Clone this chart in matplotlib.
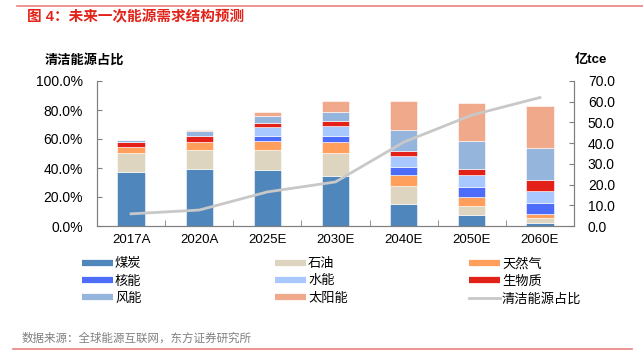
import matplotlib
matplotlib.use("Agg")
import matplotlib.pyplot as plt
from matplotlib.lines import Line2D
from matplotlib.ticker import FuncFormatter, FixedLocator

plt.rcParams['font.family'] = ['Liberation Sans', 'Noto Sans CJK SC']

# data (亿tce)
categories = ['2017A', '2020A', '2025E', '2030E', '2040E', '2050E', '2060E']
coal    = [26.0, 27.5, 26.8, 24.1, 10.5, 5.1, 1.4]
oil     = [9.1, 9.4, 9.9, 11.0, 8.8, 4.5, 2.4]
gas     = [3.2, 3.8, 4.5, 5.5, 5.5, 4.3, 2.1]
nuclear = [0.0, 0.0, 2.4, 3.0, 3.6, 4.8, 5.1]
hydro   = [0.0, 0.0, 4.0, 4.6, 5.6, 6.1, 5.8]
bio     = [2.1, 2.9, 2.2, 2.5, 2.4, 2.5, 5.3]
wind    = [1.3, 2.4, 3.2, 4.5, 10.1, 13.6, 15.7]
solar   = [0.0, 0.5, 2.2, 5.1, 13.8, 18.5, 20.3]
share   = [0.084, 0.11, 0.235, 0.304, 0.578, 0.765, 0.886]

series = [('煤炭', coal, '#4F86BC'), ('石油', oil, '#DDD5C0'), ('天然气', gas, '#FF9F5B'),
          ('核能', nuclear, '#4D6CF9'), ('水能', hydro, '#A8C8FF'), ('生物质', bio, '#E32119'),
          ('风能', wind, '#95B5DC'), ('太阳能', solar, '#F0A98B')]
line_color = '#C8C8C8'
spine_color = '#808080'

fig = plt.figure(figsize=(6.43, 3.56), dpi=100)
ax = fig.add_axes([97/643, 1-226/356, 477/643, 145/356])
ax2 = ax.twinx()

x = list(range(len(categories)))
bottom = [0.0]*len(categories)
for name, vals, c in series:
    ax2.bar(x, vals, 0.4, bottom=bottom, color=c, edgecolor='white', linewidth=0.4)
    bottom = [b + v for b, v in zip(bottom, vals)]

ax.plot(x, share, color=line_color, lw=2)
ax.set_zorder(ax2.get_zorder() + 1)
ax.patch.set_visible(False)

ax.set_xlim(-0.5, len(categories) - 0.5)
ax.set_ylim(0, 1)
ax2.set_ylim(0, 70)
ax.yaxis.set_major_locator(FixedLocator([0, 0.2, 0.4, 0.6, 0.8, 1.0]))
ax.yaxis.set_major_formatter(FuncFormatter(lambda v, p: '%.1f%%' % (v*100)))
ax2.yaxis.set_major_locator(FixedLocator(range(0, 71, 10)))
ax2.yaxis.set_major_formatter(FuncFormatter(lambda v, p: '%.1f' % v))

ax.set_xticks(x)
ax.set_xticklabels(categories)
ax.set_xticks([i + 0.5 for i in x[:-1]], minor=True)
ax.tick_params(axis='x', which='major', length=0, pad=6, labelsize=9.5)
ax.tick_params(axis='x', which='minor', length=4, direction='in', color=spine_color)
ax.tick_params(axis='y', length=3.5, direction='in', color=spine_color, labelsize=10, pad=10)
ax2.tick_params(axis='y', length=3.5, direction='in', color=spine_color, labelsize=10, pad=10)

for a in (ax, ax2):
    a.spines['top'].set_visible(False)
    for s in ('left', 'right', 'bottom'):
        a.spines[s].set_color(spine_color)
        a.spines[s].set_linewidth(0.8)

fig.text(45/643, 1-60/356, '清洁能源占比', fontsize=9.5, fontweight='bold', va='center', ha='left')
fig.text(575/643, 1-60/356, '亿tce', fontsize=9.5, fontweight='bold', va='center', ha='left')

# title and frame lines
fig.text(27/643, 1-17/356, '图 4：未来一次能源需求结构预测', fontsize=10.5, fontweight='bold',
         color='#E2231A', va='center', ha='left')
fig.add_artist(Line2D([17/643, 1.0], [1-6/356, 1-6/356], color='#EE8080', lw=1.2))
fig.add_artist(Line2D([13/643, 632/643], [1-349/356, 1-349/356], color='#EE8080', lw=1.2))
fig.text(22/643, 1-339/356, '数据来源：全球能源互联网，东方证券研究所', fontsize=8.3,
         color='#808080', va='center', ha='left')

# legend, three columns
handles = [Line2D([], [], color=c, lw=4.5, solid_capstyle='butt') for _, _, c in series]
handles.append(Line2D([], [], color=line_color, lw=2))
labels = [s[0] for s in series] + ['清洁能源占比']
cols = [[0, 3, 6], [1, 4, 7], [2, 5, 8]]
col_x = [82, 275, 469]
for cx, idx in zip(col_x, cols):
    leg = fig.legend([handles[i] for i in idx], [labels[i] for i in idx],
                     loc='upper left', bbox_to_anchor=(cx/643, 1-258/356),
                     frameon=False, fontsize=9.5, handlelength=2.35, handletextpad=0.15,
                     labelspacing=0.38, borderpad=0, borderaxespad=0)

fig.savefig('out.png', dpi=100)
